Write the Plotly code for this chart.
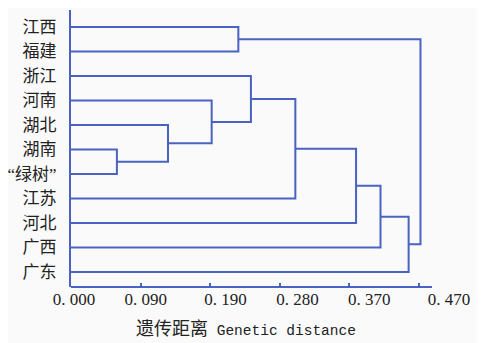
import plotly.graph_objects as go

# ---- data ----
leaves = ["江西", "福建", "浙江", "河南", "湖北", "湖南", "“绿树”", "江苏", "河北", "广西", "广东"]
# merges: (child_a, child_b, height); children are leaf names or "c<k>" for k-th merge
merges = [
    ("湖南", "“绿树”", 0.062),
    ("湖北", "c0", 0.131),
    ("河南", "c1", 0.190),
    ("浙江", "c2", 0.243),
    ("c3", "江苏", 0.303),
    ("c4", "河北", 0.385),
    ("c5", "广西", 0.418),
    ("c6", "广东", 0.456),
    ("江西", "福建", 0.226),
    ("c8", "c7", 0.472),
]
tick_marks = [0.0, 0.094, 0.188, 0.282, 0.376, 0.470]
tick_label_vals = [0.0, 0.09, 0.19, 0.28, 0.37, 0.47]
tick_label_text = ["0. 000", "0. 090", "0. 190", "0. 280", "0. 370", "0. 470"]

# ---- build dendrogram segments ----
pos = {name: (0.0, float(i)) for i, name in enumerate(leaves)}  # (height, y)
xs, ys = [], []
for k, (a, b, h) in enumerate(merges):
    ha, ya = pos[a]
    hb, yb = pos[b]
    xs += [ha, h, h, hb, None]
    ys += [ya, ya, yb, yb, None]
    pos[f"c{k}"] = (h, (ya + yb) / 2)

LINE = "#4a62c0"
fig = go.Figure()
fig.add_trace(go.Scatter(x=xs, y=ys, mode="lines",
                         line=dict(color=LINE, width=2), hoverinfo="skip",
                         showlegend=False))
# invisible trace to activate xaxis2
fig.add_trace(go.Scatter(x=[0], y=[0], xaxis="x2", mode="markers",
                         marker=dict(opacity=0), showlegend=False, hoverinfo="skip"))

px_per_unit = 348 / 0.47
x_end = 399 / px_per_unit
axis_line_end = 361 / px_per_unit
# label axis scale
lab_ppu = 798.0
x2_lo = -3 / lab_ppu
x2_hi = x2_lo + 399 / lab_ppu

# page body has an 8px default margin -> compensate
fig.update_layout(
    width=477, height=335,
    margin=dict(l=63, r=15, t=2, b=56),
    paper_bgcolor="#fafafa", plot_bgcolor="#fafafa",
    font=dict(family="Liberation Serif, Noto Sans CJK SC", size=17, color="#222222"),
    xaxis=dict(range=[0, x_end], tickvals=tick_marks, showticklabels=False,
               ticks="inside", ticklen=4, tickwidth=1.5, tickcolor=LINE,
               showgrid=False, zeroline=False, showline=False, automargin=False),
    xaxis2=dict(range=[x2_lo, x2_hi], overlaying="x", side="bottom",
                tickvals=tick_label_vals, ticktext=tick_label_text,
                ticks="", showgrid=False, zeroline=False, showline=False, automargin=False,
                tickfont=dict(family="Liberation Serif, Noto Sans CJK SC", size=17, color="#222222")),
    yaxis=dict(range=[10.61, -0.69], tickvals=list(range(len(leaves))), ticktext=leaves,
               ticks="", showgrid=False, zeroline=False, showline=True, automargin=False,
               linecolor=LINE, linewidth=2, ticklabelstandoff=9,
               tickfont=dict(family="Liberation Serif, Noto Sans CJK SC", size=17, color="#222222")),
    shapes=[dict(type="line", xref="x", yref="paper", x0=0, x1=axis_line_end, y0=0, y1=0,
                 line=dict(color=LINE, width=2))],
    annotations=[dict(text="<span style='font-size:18px;font-family:Noto Sans CJK SC'>遗传距离</span> Genetic distance",
                      xref="paper", yref="paper", x=(246 - 71) / 399, y=-40 / 277,
                      showarrow=False, xanchor="center", yanchor="middle",
                      font=dict(family="Liberation Mono", size=14.5, color="#222222"))],
)

fig.write_html("out.html")
